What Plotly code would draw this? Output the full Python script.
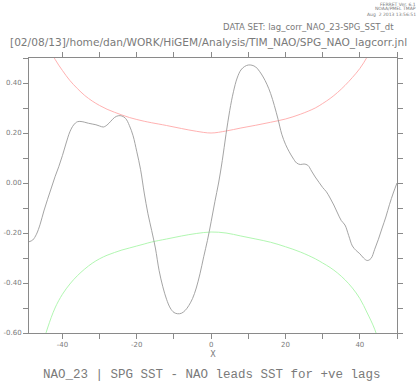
import plotly.graph_objects as go

# ---- data ----
lags = list(range(-49, 51))
corr = [-0.235, -0.228, -0.205, -0.165, -0.112, -0.065, -0.02, 0.025, 0.065, 0.11,
        0.16, 0.205, 0.232, 0.245, 0.246, 0.243, 0.239, 0.236, 0.233, 0.228,
        0.224, 0.232, 0.247, 0.262, 0.269, 0.268, 0.258, 0.23, 0.189, 0.125,
        0.055, -0.04, -0.123, -0.19, -0.26, -0.35, -0.415, -0.465, -0.5, -0.518,
        -0.523, -0.521, -0.51, -0.49, -0.462, -0.42, -0.363, -0.295, -0.23, -0.155,
        -0.075, 0.0, 0.09, 0.195, 0.29, 0.365, 0.42, 0.452, 0.466, 0.472,
        0.471, 0.464, 0.447, 0.424, 0.395, 0.358, 0.31, 0.255, 0.195, 0.155,
        0.125, 0.1, 0.08, 0.074, 0.076, 0.071, 0.048, 0.024, 0.003, -0.018,
        -0.035, -0.06, -0.088, -0.12, -0.15, -0.168, -0.21, -0.252, -0.27, -0.283,
        -0.3, -0.31, -0.302, -0.265, -0.225, -0.18, -0.136, -0.085, -0.04, 0.0]

bound_lags = [-46, -44, -42, -40, -38, -36, -34, -32, -30, -28, -26, -24, -22, -20, -18, -16,
              -12, -8, -4, 0, 4, 8, 12, 16, 20, 24, 28, 30, 32, 34, 36, 38, 40, 42, 44, 46]
upper = [0.66, 0.555, 0.495, 0.45, 0.41, 0.378, 0.35, 0.328, 0.31, 0.295, 0.283, 0.272, 0.262, 0.254,
         0.247, 0.241, 0.23, 0.218, 0.207, 0.200, 0.208, 0.22, 0.231, 0.243, 0.256, 0.275, 0.3,
         0.318, 0.338, 0.362, 0.39, 0.422, 0.458, 0.505, 0.565, 0.66]
lower = [-0.68, -0.58, -0.50, -0.445, -0.404, -0.371, -0.344, -0.321, -0.303, -0.289, -0.278, -0.268,
         -0.26, -0.252, -0.244, -0.236, -0.224, -0.212, -0.202, -0.196, -0.2, -0.212, -0.224,
         -0.237, -0.255, -0.276, -0.303, -0.32, -0.338, -0.36, -0.387, -0.42, -0.462, -0.52,
         -0.585, -0.68]

x_tickvals = list(range(-40, 51, 10))
x_ticktext = ["-40", "", "-20", "", "0", "", "20", "", "40", ""]
y_tickvals = [-0.6, -0.5, -0.4, -0.3, -0.2, -0.1, 0.0, 0.1, 0.2, 0.3, 0.4, 0.5]
y_ticktext = ["-0.60", "", "-0.40", "", "-0.20", "", "0.00", "", "0.20", "", "0.40", ""]

TXT = "#7a7a7a"
AX = "#8a8a8a"
W, H = 419, 383
ML, MR, MT, MB = 29, 22, 58, 50

fig = go.Figure()
fig.add_trace(go.Scatter(x=bound_lags, y=upper, mode="lines",
                         line=dict(color="#ffa8a8", width=0.9, shape="spline")))
fig.add_trace(go.Scatter(x=bound_lags, y=lower, mode="lines",
                         line=dict(color="#a8f5a8", width=0.9, shape="spline")))
fig.add_trace(go.Scatter(x=lags, y=corr, mode="lines",
                         line=dict(color="#9a9a9a", width=0.9, shape="spline")))

fig.update_layout(
    width=W, height=H,
    margin=dict(l=ML, r=MR, t=MT, b=MB, autoexpand=False),
    paper_bgcolor="white", plot_bgcolor="white",
    showlegend=False,
    font=dict(family="DejaVu Sans", color=TXT, size=7),
    xaxis=dict(range=[-49, 50], tickvals=x_tickvals, ticktext=x_ticktext, automargin=False,
               showgrid=False, zeroline=False, showline=True, linecolor=AX, linewidth=1,
               mirror="ticks", ticks="outside", ticklen=5, tickcolor=AX, tickwidth=1,
               tickfont=dict(size=7, color=TXT),
               title=dict(text="X", font=dict(size=8, color=TXT), standoff=2)),
    yaxis=dict(range=[-0.6, 0.5], tickvals=y_tickvals, ticktext=y_ticktext, automargin=False,
               showgrid=False, zeroline=False, showline=True, linecolor=AX, linewidth=1,
               mirror="ticks", ticks="outside", ticklen=5, tickcolor=AX, tickwidth=1,
               tickfont=dict(size=7, color=TXT)),
)


def px_ann(text, x, y, size, xanchor="left", family="DejaVu Sans", color=TXT):
    # convert pixel position to paper coordinates of the plot area
    pw = W - ML - MR
    ph = H - MT - MB
    fig.add_annotation(text=text, x=(x - ML) / pw, y=(H - MB - y) / ph,
                       xref="paper", yref="paper", showarrow=False,
                       xanchor=xanchor, yanchor="middle", borderpad=0,
                       font=dict(family=family, size=size, color=color))


px_ann("FERRET Ver. 6.1", 417, 4, 4.5, xanchor="right")
px_ann("NOAA/PMEL TMAP", 417, 9, 4.5, xanchor="right")
px_ann("Aug  2 2013 13:56:51", 417, 14, 4.5, xanchor="right")
px_ann("DATA SET: lag_corr_NAO_23-SPG_SST_dt", 395, 27, 8.5, xanchor="right")
px_ann("[02/08/13]/home/dan/WORK/HiGEM/Analysis/TIM_NAO/SPG_NAO_lagcorr.jnl", 9, 42, 10.6)
px_ann("NAO_23 | SPG SST - NAO leads SST for +ve lags", 212, 375, 12.5,
       xanchor="center", family="Liberation Mono")

fig.write_html("out.html", config={"displayModeBar": False},
               post_script="document.body.style.margin='0';document.body.style.overflow='hidden';")
